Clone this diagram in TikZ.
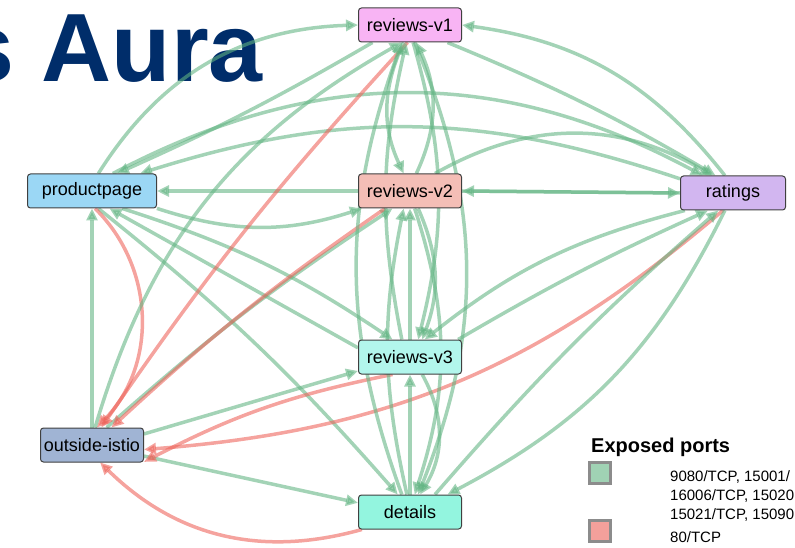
\documentclass[tikz,border=0pt]{standalone}
\usepackage{fontspec}
\setmainfont{Liberation Sans}
\usetikzlibrary{arrows.meta, backgrounds}

\definecolor{titleblue}{RGB}{0,45,106}
\definecolor{edgegreen}{RGB}{97,180,130}
\definecolor{edgered}{RGB}{237,97,88}
\definecolor{prodfill}{RGB}{155,215,245}
\definecolor{rev1fill}{RGB}{248,180,244}
\definecolor{rev2fill}{RGB}{244,190,182}
\definecolor{rev3fill}{RGB}{178,246,236}
\definecolor{ratfill}{RGB}{210,182,240}
\definecolor{extfill}{RGB}{160,180,212}
\definecolor{detfill}{RGB}{147,245,223}

\begin{document}
\begin{tikzpicture}[x=1pt, y=-1pt,
    svc/.style={draw=black!75, line width=1pt, rounded corners=3pt, minimum width=103pt, minimum height=34pt, inner sep=0pt, font=\fontsize{18}{20}\selectfont},
    ok/.style={draw=edgegreen, line width=3.5pt, opacity=0.58, -{Triangle[length=12pt, width=11pt]}},
    bad/.style={ok, draw=edgered},
    swatch/.style={draw=black!45, line width=2.5pt, minimum size=21pt, inner sep=0pt}]
      \useasboundingbox (0,0) rectangle (795,548);
      \node[svc, fill=prodfill, minimum width=129pt] (prod) at (92,191) {productpage};
      \node[svc, fill=rev1fill] (rev1) at (410,25) {reviews-v1};
      \node[svc, fill=rev2fill] (rev2) at (410,191) {reviews-v2};
      \node[svc, fill=rev3fill] (rev3) at (410,357) {reviews-v3};
      \node[svc, fill=ratfill, minimum width=105pt] (rat) at (733,193) {ratings};
      \node[svc, fill=extfill] (ext) at (92,445) {outside-istio};
      \node[svc, fill=detfill] (det) at (410,512) {details};
      \begin{scope}[on background layer]
        \clip (0,0) rectangle (795,548);
        \node[anchor=base east, inner sep=0pt, text=titleblue, font=\fontsize{97}{97}\selectfont\bfseries] (title) at (263,82) {s Aura};
        % productpage
        \draw[ok] (prod.70) to[bend left=28] (rev1.west);
        \draw[ok] (prod.40) to[bend left=28] (rat.150);
        \draw[ok] (prod.-15) to[bend right=18] (rev2.200);
        \draw[ok] (prod.-30) to[bend left=8] (rev3.135);
        \draw[ok] (prod.-70) to[bend left=5] (det.125);
        \draw[bad] (prod.-80) to[bend left=45] (ext.75);
        \draw[ok] (rev1.205) to[bend left=3] (prod.35);
        \draw[ok] (rat.165) to[bend right=18] (prod.20);
        \draw[ok] (rev2.west) -- (prod.east);
        \draw[ok] (rev3.170) -- (prod.-45);
        \draw[ok] (ext.north) -- (prod.south);
        % outside-istio
        \draw[ok] (ext.80) to[bend left=22] (rev1.245);
        \draw[ok] (ext.50) to[bend left=4] (rev2.225);
        \draw[ok] (ext.12) -- (rev3.195);
        \draw[ok] (ext.-12) -- (det.170);
        \draw[bad] (rev1.262) to[bend right=4] (ext.62);
        \draw[bad] (rev2.215) to[bend right=4] (ext.42);
        \draw[bad] (rat.240) to[bend left=18] (ext.-5);
        \draw[bad] (rev3.225) to[bend right=8] (ext.-18);
        \draw[bad] (det.200) to[bend left=30] (ext.-65);
        % reviews
        \draw[ok] (rev1.250) to[bend right=25] (rev2.110);
        \draw[ok] (rev2.70) to[bend right=25] (rev1.290);
        \draw[ok] (rev1.280) to[bend left=15] (rev3.65);
        \draw[ok] (rev3.115) to[bend left=12] (rev1.258);
        \draw[ok] (rev1.285) to[bend left=22] (det.65);
        \draw[ok] (det.115) to[bend left=20] (rev1.245);
        \draw[ok] (rev3.north) -- (rev2.south);
        \draw[ok] (det.north) -- (rev3.south);
        \draw[ok] (rev2.295) to[bend left=22] (rev3.55);
        \draw[ok] (rev2.285) to[bend left=18] (det.75);
        \draw[ok] (det.100) to[bend left=12] (rev2.250);
        \draw[ok] (rev3.305) to[bend left=30] (det.60);
        % ratings
        \draw[ok] (rev2.east) -- (rat.west);
        \draw[ok] (rat.west) -- (rev2.east);
        \draw[ok] (rev1.335) to[bend left=4] (rat.135);
        \draw[ok] (rat.115) to[bend right=22] (rev1.east);
        \draw[ok] (rev2.35) to[bend left=30] (rat.140);
        \draw[ok] (rat.200) to[bend right=12] (rev3.50);
        \draw[ok] (rev3.20) to[bend left=3] (rat.215);
        \draw[ok] (rat.245) to[bend left=18] (det.25);
        \draw[ok] (det.35) to[bend left=4] (rat.230);
      \end{scope}
      % legend
      \begin{scope}
        \clip (0,0) rectangle (795,548);
        \node[anchor=base west, inner sep=0pt, font=\fontsize{20}{24}\selectfont\bfseries] (legend) at (591,452) {Exposed ports};
        \node[swatch, fill=edgegreen!60] (okbox) at (600,473) {};
        \node[swatch, fill=edgered!60] (badbox) at (600,531) {};
        \node[anchor=north west, inner sep=0pt, align=left, font=\fontsize{15}{19}\selectfont] (oktext) at (670,470) {9080/TCP, 15001/\\16006/TCP, 15020\\15021/TCP, 15090};
        \node[anchor=west, inner sep=0pt, font=\fontsize{15}{19}\selectfont] (badtext) at (670,537) {80/TCP};
      \end{scope}
    \end{tikzpicture}
\end{document}
